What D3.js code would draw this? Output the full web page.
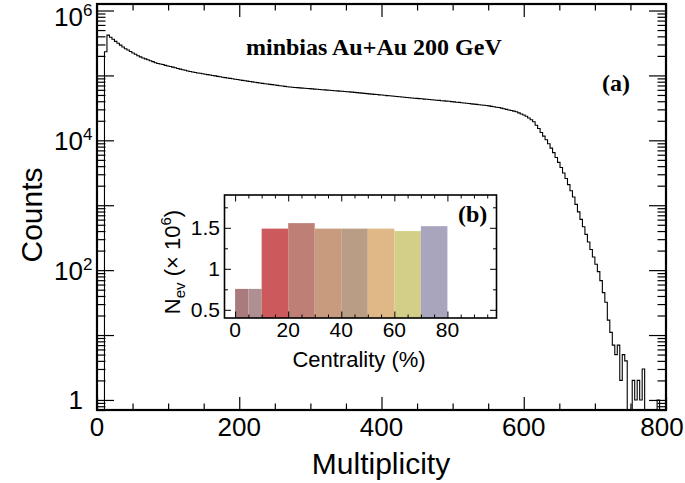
<!DOCTYPE html>
<html><head><meta charset="utf-8">
<script src="https://cdn.jsdelivr.net/npm/d3@7"></script>
<style>
html,body{margin:0;padding:0;background:#fff;}
svg{display:block;}
.sans{font-family:"Liberation Sans",Arial,Helvetica,sans-serif;}
.serifb{font-family:"Liberation Serif","Times New Roman",serif;font-weight:bold;}
</style></head><body>
<svg id="chart" width="685" height="483"></svg>
<script>
// Multiplicity histogram: equal-width bins starting at 0
const binWidth = 3.5;
const counts = [
  0, 0, 0, 232000, 417000, 387000, 360000, 335000, 313000, 293000,
  274000, 258000, 246000, 234000, 222000, 212000, 201000, 193000, 186000, 180000,
  174000, 168000, 163000, 157000, 153000, 150000, 147000, 143000, 140000, 137000,
  134000, 131000, 128000, 125000, 122000, 120000, 117000, 115000, 113000, 111000,
  109000, 108000, 106000, 104500, 103000, 101400, 99800, 98400, 96800, 95300,
  93800, 92500, 91200, 89900, 88700, 87500, 86300, 85100, 84000, 82800,
  81700, 80500, 79400, 78300, 77400, 76500, 75500, 74600, 73800, 72900,
  72100, 71200, 70300, 69500, 68700, 67900, 67000, 66200, 65700, 65200,
  64800, 64300, 63800, 63400, 62900, 62500, 62000, 61600, 61100, 60700,
  60300, 59800, 59400, 59000, 58500, 58100, 57700, 57300, 56900, 56500,
  56100, 55700, 55200, 54800, 54300, 53800, 53400, 52900, 52400, 52000,
  51500, 51100, 50700, 50200, 49800, 49400, 48900, 48500, 48100, 47700,
  47300, 46900, 46500, 46100, 45700, 45400, 45000, 44600, 44300, 43900,
  43600, 43200, 42900, 42500, 42200, 41800, 41500, 41200, 40800, 40500,
  40200, 39900, 39500, 39100, 38700, 38400, 38000, 37600, 37200, 36900,
  36500, 36100, 35800, 35400, 35100, 34700, 34400, 33900, 33400, 32900,
  32400, 32000, 31300, 30600, 30000, 29400, 28800, 28200, 27600, 26500,
  25500, 24500, 23500, 22100, 20700, 19300, 17100, 15200, 13200, 11600,
  10200, 8850, 7570, 6460, 5440, 4580, 3820, 3130, 2580, 2080,
  1670, 1340, 1030, 789, 605, 465, 356, 272, 208, 159,
  123, 95, 69, 45, 32, 17, 11, 7, 5, 7,
  2, 5, 4, 0, 0, 2, 1, 2, 1, 3,
  0, 0, 0, 0, 0, 1, 0
];
const xMajorTicks = [0, 200, 400, 600, 800];
const xMinorStep = 50;
const yLabelDecades = [0, 2, 4, 6];

// Inset: number of events (millions) per centrality class
const centralityEdges = [0, 5, 10, 20, 30, 40, 50, 60, 70, 80];
const nevMillions = [0.755, 0.755, 1.49, 1.557, 1.49, 1.49, 1.49, 1.46, 1.52];
const barColors = ["#a97b7c", "#ae9093", "#cc5a5c", "#bd7f76", "#c89a7e",
                   "#b99d84", "#e0b887", "#d3cf88", "#aaa5bf"];
const insetXTicks = [0, 20, 40, 60, 80];
const insetYTicks = [0.5, 1, 1.5];

const svg = d3.select("#chart");

// ---------- main panel ----------
const M = {left: 97, right: 666, top: 4, bottom: 410};
const x = d3.scaleLinear().domain([0, 800]).range([M.left, M.right]);
const y = d3.scaleLog().domain([0.7, 1.26e6]).range([M.bottom, M.top]);

svg.append("defs").append("clipPath").attr("id", "plotClip")
  .append("rect").attr("x", M.left).attr("y", M.top)
  .attr("width", M.right - M.left).attr("height", M.bottom - M.top);

// step outline of the histogram
const yv = c => c > 0 ? y(c) : M.bottom;
const pts = [];
counts.forEach((c, k) => {
  pts.push([k * binWidth, yv(c)]);
  pts.push([(k + 1) * binWidth, yv(c)]);
});
svg.append("path")
  .attr("clip-path", "url(#plotClip)")
  .attr("d", d3.line().x(d => x(d[0])).y(d => d[1])(pts))
  .attr("fill", "none").attr("stroke", "#000").attr("stroke-width", 1.1);

function styleAxis(g, w) {
  g.select(".domain").remove();
  g.selectAll(".tick line").attr("stroke", "#000").attr("stroke-width", w);
  g.selectAll(".tick text").remove();
}

const xMinor = d3.range(0, 801, xMinorStep).filter(v => !xMajorTicks.includes(v));
[[d3.axisBottom, M.bottom], [d3.axisTop, M.top]].forEach(([ax, pos]) => {
  svg.append("g").attr("transform", `translate(0,${pos})`)
    .call(ax(x).tickValues(xMajorTicks).tickSize(-13)).call(g => styleAxis(g, 1.2));
  svg.append("g").attr("transform", `translate(0,${pos})`)
    .call(ax(x).tickValues(xMinor).tickSize(-6.5)).call(g => styleAxis(g, 1.2));
});

const yMajor = d3.range(0, 7).map(e => Math.pow(10, e));
const yMinor = [];
for (let e = -1; e <= 6; e++) for (let m = 2; m <= 9; m++) {
  const v = m * Math.pow(10, e);
  if (v >= 0.7 && v <= 1.26e6) yMinor.push(v);
}
[[d3.axisLeft, M.left], [d3.axisRight, M.right]].forEach(([ax, pos]) => {
  svg.append("g").attr("transform", `translate(${pos},0)`)
    .call(ax(y).tickValues(yMajor).tickSize(-17)).call(g => styleAxis(g, 1.2));
  svg.append("g").attr("transform", `translate(${pos},0)`)
    .call(ax(y).tickValues(yMinor).tickSize(-8.5)).call(g => styleAxis(g, 1.2));
});

svg.append("rect").attr("x", M.left).attr("y", M.top)
  .attr("width", M.right - M.left).attr("height", M.bottom - M.top)
  .attr("fill", "none").attr("stroke", "#000").attr("stroke-width", 2.2);

// tick labels, kept inside the canvas at the edges
svg.append("g").attr("class", "sans").selectAll("text").data(xMajorTicks).join("text")
  .attr("x", d => Math.min(x(d), 662)).attr("y", 436).attr("text-anchor", "middle")
  .attr("font-size", 26).text(d => d);

const yl = svg.append("g").attr("class", "sans");
yLabelDecades.forEach(e => {
  const ty = Math.max(y(Math.pow(10, e)), 16);
  if (e === 0) {
    yl.append("text").attr("x", 83).attr("y", ty + 9.5).attr("text-anchor", "end")
      .attr("font-size", 26).text("1");
  } else {
    yl.append("text").attr("x", 83).attr("y", ty + 9.5).attr("text-anchor", "end")
      .attr("font-size", 26).text("10");
    yl.append("text").attr("x", 83).attr("y", ty).attr("font-size", 17).text(e);
  }
});

// axis titles
svg.append("text").attr("class", "sans").attr("x", 381).attr("y", 474)
  .attr("text-anchor", "middle").attr("font-size", 30).text("Multiplicity");
svg.append("text").attr("class", "sans")
  .attr("transform", "translate(42,215) rotate(-90)")
  .attr("text-anchor", "middle").attr("font-size", 30).text("Counts");

svg.append("text").attr("class", "serifb").attr("x", 246).attr("y", 55)
  .attr("font-size", 24).text("minbias Au+Au 200 GeV");
svg.append("text").attr("class", "serifb").attr("x", 602).attr("y", 91)
  .attr("font-size", 24).text("(a)");

// ---------- inset ----------
const I = {left: 224.5, right: 496.5, top: 195, bottom: 318};
const ix = d3.scaleLinear().domain([-4, 98.5]).range([I.left, I.right]);
const iy = d3.scaleLinear().domain([0.4, 1.9]).range([I.bottom, I.top]);

svg.append("rect").attr("x", I.left).attr("y", I.top)
  .attr("width", I.right - I.left).attr("height", I.bottom - I.top).attr("fill", "#fff");

svg.append("g").selectAll("rect").data(nevMillions).join("rect")
  .attr("x", (d, i) => ix(centralityEdges[i]))
  .attr("width", (d, i) => ix(centralityEdges[i + 1]) - ix(centralityEdges[i]))
  .attr("y", d => iy(d)).attr("height", d => iy(0.4) - iy(d))
  .attr("fill", (d, i) => barColors[i]);

const ixMinor = d3.range(0, 99, 5).filter(v => !insetXTicks.includes(v));
[[d3.axisBottom, I.bottom], [d3.axisTop, I.top]].forEach(([ax, pos]) => {
  svg.append("g").attr("transform", `translate(0,${pos})`)
    .call(ax(ix).tickValues(insetXTicks).tickSize(-6.5)).call(g => styleAxis(g, 1));
  svg.append("g").attr("transform", `translate(0,${pos})`)
    .call(ax(ix).tickValues(ixMinor).tickSize(-3.5)).call(g => styleAxis(g, 1));
});
const iyMinor = [0.75, 1.25, 1.75];
[[d3.axisLeft, I.left], [d3.axisRight, I.right]].forEach(([ax, pos]) => {
  svg.append("g").attr("transform", `translate(${pos},0)`)
    .call(ax(iy).tickValues(insetYTicks).tickSize(-6.5)).call(g => styleAxis(g, 1));
  svg.append("g").attr("transform", `translate(${pos},0)`)
    .call(ax(iy).tickValues(iyMinor).tickSize(-3.5)).call(g => styleAxis(g, 1));
});

svg.append("rect").attr("x", I.left).attr("y", I.top)
  .attr("width", I.right - I.left).attr("height", I.bottom - I.top)
  .attr("fill", "none").attr("stroke", "#000").attr("stroke-width", 1.6);

svg.append("g").attr("class", "sans").selectAll("text").data(insetXTicks).join("text")
  .attr("x", d => ix(d)).attr("y", 337).attr("text-anchor", "middle")
  .attr("font-size", 21).text(d => d);
svg.append("g").attr("class", "sans").selectAll("text").data(insetYTicks).join("text")
  .attr("x", 220).attr("y", d => iy(d) + 7.5).attr("text-anchor", "end")
  .attr("font-size", 21).text(d => d);

svg.append("text").attr("class", "sans").attr("x", 359).attr("y", 367)
  .attr("text-anchor", "middle").attr("font-size", 22).text("Centrality (%)");

const nl = svg.append("text").attr("class", "sans")
  .attr("transform", "translate(180,262) rotate(-90)")
  .attr("text-anchor", "middle").attr("font-size", 22);
nl.append("tspan").text("N");
nl.append("tspan").attr("font-size", 15).attr("dy", 5).text("ev");
nl.append("tspan").attr("dy", -5).text(" (\u00d7 10");
nl.append("tspan").attr("font-size", 15).attr("dy", -9).text("6");
nl.append("tspan").attr("dy", 9).text(")");

svg.append("text").attr("class", "serifb").attr("x", 458).attr("y", 222)
  .attr("font-size", 24).text("(b)");
</script>
</body></html>
